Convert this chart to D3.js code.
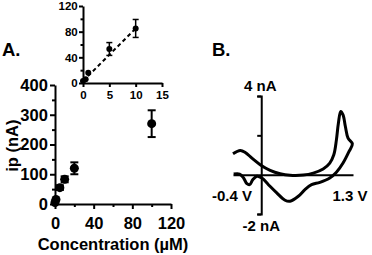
<!DOCTYPE html>
<html>
<head>
<meta charset="utf-8">
<script src="https://cdn.jsdelivr.net/npm/d3@7"></script>
<style>
body { margin: 0; background: #fff; }
svg { font-family: "Liberation Sans", Arial, sans-serif; font-weight: bold; }
.axis path, .axis line { stroke: #000; stroke-width: 2; }
</style>
</head>
<body>
<script>
// main calibration data
var conc = [0, 1, 5, 10, 20, 100];
var ipVals = [5, 15, 55, 83, 120, 270];
var ipErr = [3, 4, 8, 10, 20, 45];

// inset (low range)
var insetConc = [0, 0.5, 1, 5, 10];
var insetIp = [3, 6, 16, 53, 85];
var insetErr = [0, 0, 0, 10, 14];
var fitLine = [[0, 3], [10, 85]];

// cyclic voltammogram
var cvV = [-0.4, -0.297, -0.226, -0.132, -0.015, 0.126, 0.267, 0.408, 0.596, 0.737, 0.877, 0.971, 1.028, 1.065, 1.093, 1.126, 1.159, 1.192, 1.23, 1.291,
    1.244, 1.159, 1.065, 0.971, 0.83, 0.713, 0.619, 0.525, 0.408, 0.337, 0.22, 0.102, 0.009, -0.062, -0.118, -0.165, -0.203, -0.25, -0.306, -0.39];
var cvI = [1.06, 1.23, 1.13, 0.84, 0.51, 0.22, 0.05, -0.03, -0.02, 0.08, 0.29, 0.59, 1.01, 1.77, 2.62, 3.21, 3.04, 2.45, 1.86, 1.57,
    1.18, 0.59, 0.12, -0.17, -0.39, -0.51, -0.76, -1.1, -1.35, -1.3, -0.93, -0.51, -0.17, -0.08, -0.25, -0.51, -0.46, -0.17, 0.03, 0.03];

var svg = d3.select("body").append("svg")
    .attr("width", 372)
    .attr("height", 255);

// ---- panel A main ----
var x = d3.scaleLinear().domain([0, 120]).range([55, 171]);
var y = d3.scaleLinear().domain([0, 400]).range([204, 85]);

var xAxis = svg.append("g").attr("class", "axis")
    .attr("transform", "translate(0," + y(0) + ")")
    .call(d3.axisBottom(x).tickValues([0, 20, 40, 60, 80, 100, 120]).tickSize(5).tickSizeOuter(0)
        .tickFormat(function(d){ return d % 40 === 0 ? d : ""; }));
xAxis.selectAll("text").attr("font-size", 16.5).attr("dy", "1.05em").attr("fill", "#000");

var yAxis = svg.append("g").attr("class", "axis")
    .attr("transform", "translate(" + x(0) + ",0)")
    .call(d3.axisLeft(y).tickValues([0, 50, 100, 150, 200, 250, 300, 350, 400]).tickSize(5).tickSizeOuter(0)
        .tickFormat(function(d){ return d % 100 === 0 ? d : ""; }));
yAxis.selectAll("text").attr("font-size", 16.5).attr("dx", "0.05em").attr("fill", "#000");
yAxis.selectAll(".tick line").attr("x2", function(d){ return d % 100 === 0 ? -5 : -3; });
xAxis.selectAll(".tick line").attr("y2", function(d){ return d % 40 === 0 ? 5 : 3; });

svg.append("text")
    .attr("transform", "translate(18," + y(196) + ") rotate(-90)")
    .attr("text-anchor", "middle")
    .attr("font-size", 16.5)
    .text("ip (nA)");

svg.append("text")
    .attr("x", 113).attr("y", 250)
    .attr("text-anchor", "middle")
    .attr("font-size", 16.5)
    .text("Concentration (\u00b5M)");

svg.append("text")
    .attr("x", 2).attr("y", 56)
    .attr("font-size", 18.5)
    .text("A.");

// error bars
var mainG = svg.append("g");
conc.forEach(function(c, i){
    if (ipErr[i] > 6) {
        mainG.append("line")
            .attr("x1", x(c)).attr("x2", x(c))
            .attr("y1", y(ipVals[i] - ipErr[i])).attr("y2", y(ipVals[i] + ipErr[i]))
            .attr("stroke", "#000").attr("stroke-width", 2);
        [ipVals[i] - ipErr[i], ipVals[i] + ipErr[i]].forEach(function(v){
            mainG.append("line")
                .attr("x1", x(c) - 4).attr("x2", x(c) + 4)
                .attr("y1", y(v)).attr("y2", y(v))
                .attr("stroke", "#000").attr("stroke-width", 2);
        });
    }
});
mainG.selectAll("circle")
    .data(conc)
    .enter()
    .append("circle")
    .attr("cx", function(d){ return x(d); })
    .attr("cy", function(d, i){ return y(ipVals[i]); })
    .attr("r", 4.5)
    .attr("fill", "#000");

// ---- inset ----
var ix = d3.scaleLinear().domain([0, 15]).range([83, 162]);
var iy = d3.scaleLinear().domain([0, 120]).range([83, 6]);

var ixAxis = svg.append("g").attr("class", "axis")
    .attr("transform", "translate(0," + iy(0) + ")")
    .call(d3.axisBottom(ix).tickValues([0, 5, 10, 15]).tickSize(4).tickSizeOuter(0));
ixAxis.selectAll("text").attr("font-size", 11.5).attr("fill", "#000").attr("dy", "0.75em");
ixAxis.selectAll("path, line").attr("stroke-width", 1.5);

var iyAxis = svg.append("g").attr("class", "axis")
    .attr("transform", "translate(" + ix(0) + ",0)")
    .call(d3.axisLeft(iy).tickValues([0, 20, 40, 60, 80, 100, 120]).tickSize(4).tickSizeOuter(0)
        .tickFormat(function(d){ return d % 40 === 0 ? d : ""; }));
iyAxis.selectAll("text").attr("font-size", 11.5).attr("fill", "#000").attr("dx", "0.15em");
iyAxis.selectAll("path, line").attr("stroke-width", 1.5);
iyAxis.selectAll(".tick line").attr("x2", function(d){ return d % 40 === 0 ? -4 : -2.5; });

svg.append("line")
    .attr("x1", ix(fitLine[0][0])).attr("y1", iy(fitLine[0][1]))
    .attr("x2", ix(fitLine[1][0])).attr("y2", iy(fitLine[1][1]))
    .attr("stroke", "#000").attr("stroke-width", 2)
    .attr("stroke-dasharray", "4,3");

var insetG = svg.append("g");
insetConc.forEach(function(c, i){
    if (insetErr[i] > 0) {
        insetG.append("line")
            .attr("x1", ix(c)).attr("x2", ix(c))
            .attr("y1", iy(insetIp[i] - insetErr[i])).attr("y2", iy(insetIp[i] + insetErr[i]))
            .attr("stroke", "#000").attr("stroke-width", 1.5);
        [insetIp[i] - insetErr[i], insetIp[i] + insetErr[i]].forEach(function(v){
            insetG.append("line")
                .attr("x1", ix(c) - 3).attr("x2", ix(c) + 3)
                .attr("y1", iy(v)).attr("y2", iy(v))
                .attr("stroke", "#000").attr("stroke-width", 1.5);
        });
    }
});
insetG.selectAll("circle")
    .data(insetConc)
    .enter()
    .append("circle")
    .attr("cx", function(d){ return ix(d); })
    .attr("cy", function(d, i){ return iy(insetIp[i]); })
    .attr("r", 3)
    .attr("fill", "#000");

// ---- panel B ----
var vx = d3.scaleLinear().domain([-0.4, 1.3]).range([233, 353]);
var vy = d3.scaleLinear().domain([-2, 4]).range([214, 96]);

svg.append("text")
    .attr("x", 212).attr("y", 56)
    .attr("font-size", 18.5)
    .text("B.");

svg.append("g").attr("class", "axis")
    .attr("transform", "translate(0," + vy(0) + ")")
    .call(d3.axisBottom(vx).tickValues([-0.4, 0, 0.4, 0.8, 1.2]).tickSize(0).tickSizeOuter(0).tickFormat(""))
    .select(".domain").attr("stroke-width", 2.5);

var vyAxis = svg.append("g").attr("class", "axis")
    .attr("transform", "translate(" + vx(0) + ",0)")
    .call(d3.axisLeft(vy).tickValues([-2, 2, 4]).tickSize(4).tickSizeOuter(4).tickFormat(""));
vyAxis.select(".domain").attr("stroke-width", 2.5);

var cvLine = d3.line()
    .x(function(d, i){ return vx(cvV[i]); })
    .y(function(d){ return vy(d); })
    .curve(d3.curveCatmullRom);
svg.append("path")
    .datum(cvI)
    .attr("d", cvLine)
    .attr("fill", "none")
    .attr("stroke", "#000")
    .attr("stroke-width", 3)
    .attr("stroke-linejoin", "round");

var bLabels = [
    {t: "4 nA", x: vx(0) - 1, y: vy(4) - 5},
    {t: "-2 nA", x: vx(0), y: vy(-2) + 17},
    {t: "-0.4 V", x: vx(-0.4) - 1, y: vy(0) + 26},
    {t: "1.3 V", x: vx(1.3) - 3, y: vy(0) + 26}
];
svg.selectAll(".blab")
    .data(bLabels)
    .enter()
    .append("text")
    .attr("class", "blab")
    .attr("x", function(d){ return d.x; })
    .attr("y", function(d){ return d.y; })
    .attr("text-anchor", "middle")
    .attr("font-size", 15)
    .text(function(d){ return d.t; });
</script>
</body>
</html>
